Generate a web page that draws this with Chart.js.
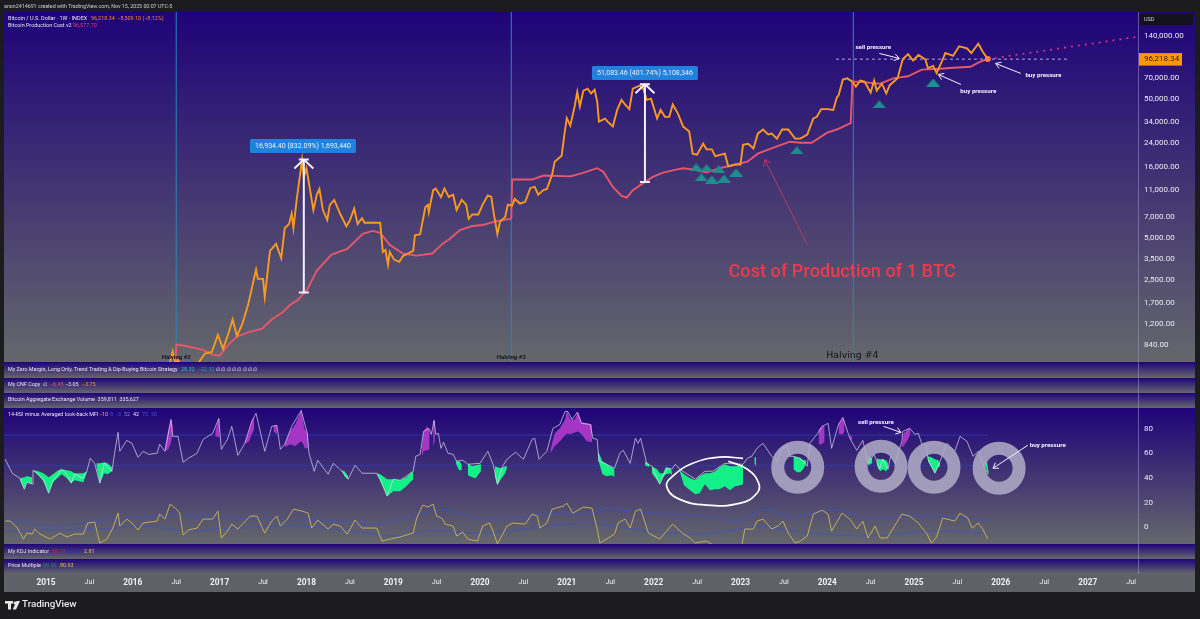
<!DOCTYPE html>
<html><head><meta charset="utf-8">
<style>html,body{margin:0;padding:0;background:#1c1c1e;overflow:hidden}canvas{display:block}</style>
<script src="https://cdn.jsdelivr.net/npm/chart.js@4"></script>
</head><body><canvas id="c" width="1200" height="619"></canvas>
<script>
const priceDates=[2014.55,2015.0,2015.5,2016.0,2016.33,2016.40,2016.44,2016.46,2016.49,2016.52,2016.56,2016.65,2016.75,
2016.83,2016.91,2016.98,2017.04,2017.10,2017.15,2017.20,2017.26,2017.33,2017.42,
2017.44,2017.50,2017.52,2017.55,2017.58,2017.65,2017.71,2017.75,2017.80,2017.83,
2017.85,2017.89,2017.95,2017.97,2018.00,2018.04,2018.08,2018.12,2018.15,2018.19,
2018.24,2018.27,2018.32,2018.39,2018.46,2018.50,2018.55,2018.59,2018.64,2018.67,
2018.77,2018.85,2018.88,2018.91,2018.94,2018.96,2019.01,2019.07,2019.11,2019.23,
2019.25,2019.31,2019.37,2019.40,2019.41,2019.46,2019.49,2019.55,2019.59,2019.64,
2019.69,2019.73,2019.79,2019.84,2019.87,2019.91,2019.98,2020.03,2020.09,2020.13,
2020.16,2020.20,2020.23,2020.29,2020.32,2020.37,2020.40,2020.46,2020.52,2020.58,
2020.63,2020.67,2020.73,2020.77,2020.83,2020.86,2020.94,2020.98,2021.00,2021.04,
2021.09,2021.12,2021.15,2021.19,2021.24,2021.28,2021.32,2021.35,2021.37,2021.44,
2021.47,2021.53,2021.58,2021.63,2021.67,2021.72,2021.76,2021.84,2021.88,2021.92,
2021.97,2022.04,2022.08,2022.13,2022.18,2022.22,2022.28,2022.34,2022.41,2022.45,
2022.50,2022.57,2022.61,2022.67,2022.71,2022.82,2022.86,2022.94,2023.00,2023.03,
2023.09,2023.15,2023.20,2023.26,2023.32,2023.36,2023.42,2023.48,2023.55,2023.63,
2023.69,2023.77,2023.84,2023.88,2023.93,2024.00,2024.07,2024.11,2024.13,2024.18,
2024.23,2024.29,2024.33,2024.38,2024.43,2024.50,2024.54,2024.57,2024.63,2024.68,
2024.72,2024.81,2024.87,2024.93,2024.99,2025.05,2025.13,2025.16,2025.22,2025.26,
2025.32,2025.36,2025.45,2025.52,2025.61,2025.66,2025.74,2025.79,2025.85];
const priceValues=[390,290,260,430,430,530,680,760,620,660,600,580,620,
735,753,1000,795,1020,1290,985,1190,1670,2950,
2530,2530,1880,2730,4020,4520,3560,5850,6280,7450,
5850,9600,18200,13700,15800,11200,7900,10200,11200,7900,
6700,8600,9350,7400,6050,6650,8100,6280,6900,6400,
6400,6400,3950,4080,3200,3950,3480,3350,3680,4020,
5200,5300,8300,8600,7650,11000,11300,9800,11300,9830,
10200,7920,9350,8650,6830,7350,7350,8650,10050,9830,
7350,5320,6500,7050,8650,8500,9500,8800,9060,11400,
11600,10200,11000,11200,14200,17600,19400,30000,36200,32000,
44000,56000,44000,57000,59000,54500,58000,47600,34200,35900,
34200,31500,41500,49000,45400,42000,59000,62000,59000,49000,
50000,36000,41500,37000,37000,45400,39000,31500,29000,20100,
19800,23700,21600,21600,19300,20100,16300,16800,16800,23300,
23700,21900,28000,30000,27600,28000,25800,30000,30000,25800,
25800,27600,36000,37000,42000,42000,41500,51000,52700,68500,
70000,66300,61000,67500,66300,55300,67500,57200,64000,54500,
62500,70000,96000,104500,94000,103000,96000,83000,86000,76500,
92400,106500,101500,119000,115000,106500,124000,109100,96218];

const costDates=[2016.49,2016.50,2016.60,2016.81,2016.91,2017.00,2017.10,2017.20,2017.32,2017.49,
2017.60,2017.73,2017.81,2017.90,2018.01,2018.12,2018.29,2018.47,2018.65,2018.76,
2018.85,2018.96,2019.11,2019.27,2019.45,2019.57,2019.65,2019.77,2019.91,2020.03,
2020.20,2020.35,2020.36,2020.37,2020.50,2020.60,2020.73,2021.04,2021.17,2021.35,
2021.42,2021.53,2021.63,2021.69,2021.76,2021.88,2021.99,2022.11,2022.27,2022.34,
2022.45,2022.61,2022.76,2022.96,2023.08,2023.20,2023.42,2023.57,2023.69,2023.82,
2024.00,2024.11,2024.27,2024.29,2024.35,2024.61,2024.76,2024.93,2025.09,2025.30,
2025.45,2025.65,2025.74,2025.85];
const costValues=[500,851,835,780,725,710,851,973,1040,1110,
1290,1460,1640,1780,2120,2900,3780,4160,5330,5600,
5420,4450,3850,3720,3850,4530,4900,5680,6070,6170,
6600,6830,6900,13100,13100,13100,14000,13800,14500,15800,
14900,11600,10000,9700,11000,12350,13700,14700,15500,15800,
15500,14700,15800,16900,17600,20100,22700,24500,24100,24100,
28500,30000,33300,66300,66300,64000,70000,72400,80800,82000,
83400,84800,90800,96577];

const rsiDates=[2014.53,2014.61,2014.70,2014.75,2014.78,2014.84,2014.85,2014.91,2014.97,2015.03,
2015.08,2015.18,2015.24,2015.29,2015.33,2015.43,2015.47,2015.51,2015.56,2015.62,
2015.67,2015.76,2015.79,2015.83,2015.85,2015.93,2015.99,2016.06,2016.12,2016.18,
2016.28,2016.31,2016.37,2016.44,2016.46,2016.52,2016.58,2016.64,2016.74,2016.81,
2016.92,2016.99,2017.02,2017.09,2017.14,2017.21,2017.29,2017.37,2017.42,2017.52,
2017.60,2017.66,2017.70,2017.75,2017.83,2017.94,2018.01,2018.03,2018.09,2018.13,
2018.25,2018.31,2018.41,2018.48,2018.56,2018.64,2018.81,2018.85,2018.93,2019.00,
2019.08,2019.23,2019.26,2019.31,2019.35,2019.41,2019.44,2019.47,2019.49,2019.52,
2019.55,2019.58,2019.63,2019.69,2019.73,2019.80,2019.86,2020.00,2020.09,2020.15,
2020.20,2020.26,2020.31,2020.41,2020.50,2020.60,2020.63,2020.68,2020.77,2020.84,
2020.92,2020.98,2021.01,2021.06,2021.12,2021.17,2021.27,2021.30,2021.35,2021.37,
2021.46,2021.55,2021.61,2021.65,2021.73,2021.79,2021.82,2021.85,2021.92,2021.98,
2022.07,2022.15,2022.21,2022.25,2022.30,2022.48,2022.59,2022.68,2022.82,2023.03,
2023.08,2023.13,2023.19,2023.26,2023.36,2023.42,2023.48,2023.54,2023.57,2023.61,
2023.69,2023.77,2023.80,2023.89,2023.94,2024.01,2024.05,2024.13,2024.18,2024.26,
2024.34,2024.41,2024.47,2024.54,2024.60,2024.64,2024.70,2024.73,2024.78,2024.86,
2024.87,2024.95,2025.01,2025.05,2025.09,2025.14,2025.16,2025.24,2025.30,2025.38,
2025.47,2025.53,2025.61,2025.68,2025.74,2025.79,2025.85];
const rsiValues=[55.3,43.9,39.8,30.9,36.6,35,46.3,43.1,39,27.6,
37.4,47.2,43.1,35.8,43.1,39.8,45.5,56.1,52,35.8,
52,45.5,60.2,77.2,61.8,70.7,68.3,56.9,61.8,59.3,
60.2,67.5,61.8,87.8,74,74,52.8,56.1,60.2,71.5,
76.4,88.6,63.4,71.5,82.1,58.5,68.3,86.2,92.7,61.8,
82.1,82.9,63.4,67.5,82.1,95.1,76.4,60.2,45.5,54.5,
43.1,52,45.5,39,50.4,43.9,43.9,39,25.2,39,
38.2,45.5,57.7,59.3,78,80.5,75.6,87,75.6,76.4,
64.2,69.1,60.2,59.3,53.7,54.5,51.2,52,61.8,51.2,
35,49.6,55.3,61,55.3,71.5,72.4,55.3,61.8,80.5,
83.7,94.3,94.3,87.8,93.5,84.6,83.7,72.4,71.5,53.7,
51.2,48,60.2,62.6,52,72.4,68.3,72.4,52,49.6,
35,48,47.2,51.2,47.2,39,45.5,45.5,52,51.2,
56.1,57.7,64.2,68.3,57.7,53.7,64.2,65.9,57.7,57.7,
56.1,49.6,68.3,76.4,82.1,84.6,64.2,83.7,89.4,72.4,
62.6,70.7,52,59.3,47.2,55.3,47.2,57.7,52,69.9,
78,80.5,75.6,76.4,67.5,67.5,55.3,43.9,53.7,68.3,
61.8,74,69.9,57.7,61.8,52,43.1];

const greenDates=[2014.70,2014.75,2014.78,2014.84,null,2014.86,2014.91,2014.97,2015.03,2015.08,2015.14,2015.18,2015.24,2015.29,2015.33,2015.43,2015.47,null,
2015.58,2015.62,2015.67,2015.71,2015.76,null,2018.41,2018.44,2018.48,null,
2018.81,2018.85,2018.93,2019.00,2019.08,2019.15,2019.23,null,2019.72,2019.76,2019.79,null,
2019.86,2019.91,2019.95,2020.01,null,2020.17,2020.20,2020.24,2020.29,2020.31,null,
2021.36,2021.41,2021.46,2021.52,2021.55,null,2021.90,2021.95,null,
2021.98,2022.04,2022.07,2022.11,2022.14,2022.19,2022.21,null,
2022.30,2022.35,2022.42,2022.48,2022.53,2022.59,2022.65,2022.71,2022.76,2022.82,2022.88,2022.94,2023.00,2023.03,null,
2023.16,2023.18,null,2023.61,2023.65,2023.69,2023.73,2023.76,null,
2024.47,2024.52,null,2024.57,2024.61,2024.64,2024.68,2024.70,null,
2025.16,2025.20,2025.24,2025.28,2025.30,null,2025.82,2025.84,2025.86];
const greenTop=[39.8,40.7,41.5,40.7,null,46.3,45.5,43.9,40.7,43.1,46.3,47.2,46.3,45.5,43.9,43.9,45.5,null,
52,52,52.8,52,48.8,null,46.3,45.5,41.5,null,
43.9,43.1,39,39,38.2,40.7,45.5,null,53.7,53.7,51.2,null,
52,49.6,50.4,51.2,null,49.6,48.8,48,49.6,49.6,null,
61.8,53.7,51.2,48.8,47.2,null,53.7,51.2,null,
49.6,47.2,43.9,43.9,48.8,48,45.5,null,
46.3,43.1,39.8,38.2,41.5,43.9,43.9,45.5,48.8,51.2,49.6,49.6,50.4,51.2,null,
56.9,56.9,null,57.7,56.9,56.1,54.5,54.5,null,
57.7,56.1,null,56.1,55.3,55.3,54.5,52,null,
57.7,56.9,55.3,54.5,52,null,53.7,52.8,45.5];
const greenBottom=[38.2,30.9,36.6,35,null,45.5,42.3,37.4,27.6,36.6,40.7,43.1,39.8,35.8,38.2,36.6,44.7,null,
49.6,35.8,43.9,43.1,45.5,null,45.5,41.5,39,null,
43.5,37.4,25.2,29.3,29.3,33.3,39,null,52,46.3,46.3,null,
42.3,40.7,39.8,45.5,null,41.5,34.1,39,43.9,48,null,
55.3,43.1,41.5,42.3,40.7,null,50.4,48.8,null,
43.9,38.2,35,40.7,43.1,43.9,42.3,null,
45.5,34.1,30.1,26.8,27.6,35,30.1,30.9,30.9,33.3,30.1,33.3,34.1,35,null,
52,49.6,null,47.2,44.7,44.7,48,52,null,
50.4,52,null,50.4,45.5,47.2,45.5,48.8,null,
53.7,48.8,43.9,48.8,49.6,null,52.8,45.5,42.3];

const purpleDates=[2016.37,2016.41,2016.44,2016.46,null,2016.95,2016.99,2017.00,null,2017.29,2017.34,2017.37,2017.40,null,
2017.62,2017.66,null,2017.75,2017.81,2017.87,2017.94,2017.96,2017.98,2018.02,null,
2019.33,2019.35,2019.39,2019.42,null,2019.46,2019.48,null,
2020.81,2020.86,2020.92,2020.98,2021.00,2021.04,2021.09,2021.13,2021.17,2021.23,2021.29,null,
2023.90,2023.94,2023.97,null,2024.13,2024.18,2024.20,null,2024.26,2024.29,null,2024.86,2024.88,2024.93,2024.96];
const purpleTop=[64.2,79.7,87.8,82.9,null,78,88.6,87.8,null,68.3,78.9,86.2,90.2,null,
82.9,82.9,null,67.5,78,83.7,95.1,87.8,79.7,75.6,null,
63.4,78,82.1,78.9,null,86.2,87,null,
62.6,76.4,80.5,87.8,95.1,87.8,87.8,94.3,85.4,84.6,83.7,null,
79.7,82.1,82.9,null,83.7,89.4,86.2,null,75.6,73.2,null,65.9,76.4,79.7,80.5];
const purpleBottom=[61.8,63.4,69.1,75.6,null,74,73.2,72.4,null,67.5,69.9,75.6,79.7,null,
78,75.6,null,65,67.5,65.9,69.9,68.3,64.2,64.2,null,
57.7,61.8,62.6,63.4,null,65.9,69.9,null,
60.2,65.9,69.9,74.8,76.4,75.6,77.2,78,75.6,69.9,69.1,null,
67.5,67.5,69.9,null,75.6,75.6,78,null,73.2,69.9,null,65,65.9,71.5,76.4];

const pmDates=[2014.53,2014.59,2014.67,2014.74,2014.78,2014.84,2014.87,2014.93,2015.05,2015.16,2015.24,2015.33,2015.43,2015.48,2015.56,2015.62,2015.70,2015.77,2015.83,2015.85,
2015.93,2015.99,2016.06,2016.12,2016.28,2016.31,2016.37,2016.43,2016.49,2016.54,2016.58,2016.64,2016.74,2016.81,2016.92,2016.98,2017.02,2017.09,2017.14,2017.21,
2017.35,2017.43,2017.52,2017.60,2017.66,2017.70,2017.78,2017.85,2017.95,2018.02,2018.06,2018.13,2018.25,2018.31,2018.39,2018.47,2018.56,2018.64,2018.81,2018.87,
2018.96,2019.08,2019.23,2019.27,2019.34,2019.40,2019.46,2019.50,2019.56,2019.60,2019.69,2019.73,2019.80,2019.86,2019.97,2020.03,2020.11,2020.15,2020.20,2020.31,
2020.38,2020.52,2020.60,2020.66,2020.69,2020.77,2020.83,2020.96,2021.00,2021.07,2021.19,2021.29,2021.35,2021.38,2021.55,2021.59,2021.67,2021.73,2021.79,2021.85,
2021.94,2022.07,2022.15,2022.22,2022.33,2022.42,2022.48,2022.61,2022.67,2022.82,2023.02,2023.05,2023.15,2023.19,2023.26,2023.36,2023.43,2023.49,2023.55,2023.63,
2023.69,2023.77,2023.84,2023.94,2024.01,2024.05,2024.17,2024.26,2024.34,2024.41,2024.47,2024.55,2024.61,2024.69,2024.86,2024.95,2025.05,2025.15,2025.20,2025.26,
2025.33,2025.47,2025.53,2025.62,2025.67,2025.74,2025.79,2025.85];
const pmValues=[4.9,4.9,-0.8,-9.8,-4.9,-5.7,-1.6,-5.7,-9.8,-4.9,-8.1,-5.7,-5.7,3.3,4.1,-13,-9.8,-0.8,11.4,0.8,
6.5,3.3,-2.4,3.3,4.9,10.6,6.5,18.7,15.4,11.4,-6.5,-2.4,-0.8,6.5,6.5,13,-8.9,-3.3,2.4,-1.6,
8.9,8.9,-4.9,4.9,8.9,0.8,6.5,14.6,13,11.4,-0.8,5.7,-1.6,2.4,0.8,-5.7,5.7,-0.8,-0.8,-11.4,
-9.8,-8.1,-4.9,7.3,17.9,16.3,18.7,8.9,7.3,2.4,0.8,-7.3,-4.1,-9.8,-11.4,0.8,3.3,-3.3,-13.8,0.8,
3.3,2.4,10.6,8.9,-0.8,3.3,14.6,17.1,19.5,11.4,16.3,15.4,-1.6,-13,-5.7,3.3,6.5,-0.8,13,14.6,
-4.9,-9.8,-3.3,2.4,-4.9,-8.9,-13,-11.4,-13.8,-31.7,-13.8,-1.6,-1.6,4.9,6.5,-1.6,0.8,4.9,-4.9,-13,
-11.4,-7.3,10.6,13.8,10.6,-3.3,11.4,6.5,-1.6,4.9,-8.9,0.8,-8.9,-8.9,10.6,8.9,3.3,-5.7,-13,-8.1,
7.3,4.9,11.4,7.3,-0.8,3.3,-1.6,-9.8];

const upperBandDates=[2014.53,2015.05,2015.43,2015.77,2016.39,2016.97,2017.55,2018.31,2018.81,2019.08,2019.54,2019.80,2020.00,2020.23,2020.55,2020.81,2021.27,2021.46,2021.76,2022.07,2022.61,2023.00,2023.26,2023.61,2024.07,2024.46,2024.95,2025.41,2025.84];
const upperBandValues=[6.5,0.8,3.3,6.5,8.9,8.1,6.5,4.9,2.4,6.5,14.6,10.6,7.3,7.3,8.9,11.4,10.6,15.4,13,10.6,8.9,4.9,14.6,8.9,14.6,7.3,8.9,8.9,4.9];
const lowerBandDates=[2014.53,2015.62,2016.20,2016.58,2017.15,2017.93,2018.70,2019.08,2019.46,2020.03,2020.81,2021.27,2021.76,2022.53,2023.22,2023.69,2024.46,2025.22,2025.84];
const lowerBandValues=[-3.3,-1.6,0.8,-3.3,-0.8,0.8,-4.9,-7.3,-3.3,-4.9,0.8,3.3,-1.6,-5.7,0,-4.1,-7.3,-3.3,-4.9];

const triangleDates=[2022.49,2022.61,2022.75,2022.55,2022.67,2022.81,2022.95,2023.65,2024.60,2025.22];
const triangleValues=[16000,15800,15500,13550,13100,13300,14700,21200,45400,65300];
const halvingDates=[2016.50,2020.36,2024.30];
const ringDates=[2023.66,2024.62,2025.23,2025.98];
const ringValues=[48.8,49.5,48.8,48];
const ellipseDates=[2023.03,2022.76,2022.45,2022.22,2022.15,2022.27,2022.61,2023.00,2023.19,2023.21,2023.08,2022.86];
const ellipseValues=[56,57,52,41.5,33.3,23.6,17.9,19.5,27.6,35.8,47.2,53.7];
const projDates=[2025.85,2027.60];
const projValues=[96218,140000];
const priceTicks=[140000,70000,50000,34000,24000,16000,11000,7000,5000,3500,2500,1700,1200,840];
const timeTicks=[2015,2015.5,2016,2016.5,2017,2017.5,2018,2018.5,2019,2019.5,2020,2020.5,2021,2021.5,2022,2022.5,2023,2023.5,2024,2024.5,2025,2025.5,2026,2026.5,2027,2027.5];

const flatTriangle=(()=>{const k=document.createElement('canvas');k.width=14;k.height=8;const q=k.getContext('2d');
 q.fillStyle='#1d8f8c';q.beginPath();q.moveTo(7,0);q.lineTo(14,8);q.lineTo(0,8);q.closePath();q.fill();return k;})();

const zip=(xs,ys)=>xs.map((x,i)=>({x:x===null?NaN:x,y:ys[i]}));
const line=(label,xs,ys,yAxisID,color,width,extra)=>Object.assign({type:'line',label,data:zip(xs,ys),yAxisID,xAxisID:'x',borderColor:color,borderWidth:width,pointRadius:0,tension:0,fill:false,spanGaps:false},extra||{});
const hLast=priceDates[priceDates.length-1];

const datasets=[
 line('Halvings',halvingDates.flatMap(t=>[t,t,t]),halvingDates.flatMap(()=>[624,215000,null]),'yPrice','#2b86bd',1,{order:50}),
 line('Projection',projDates,projValues,'yPrice','#cf3480',1.8,{borderDash:[2,5],order:45}),
 line('Level',[2024.10,2026.77],[96218,96218],'yPrice','#d8d0f8',0.8,{borderDash:[3,3],order:44}),
 line('Bitcoin Production Cost v2',costDates,costValues,'yPrice','#e8566c',1.9,{order:30}),
 line('Bitcoin / U.S. Dollar',priceDates,priceValues,'yPrice','#fb9a20',1.9,{order:20}),
 line('Last',[hLast],[96218],'yPrice','#f9a03c',0,{pointRadius:3,pointBackgroundColor:'#f57e54',pointBorderWidth:0,order:10}),
 line('Signals',triangleDates,triangleValues,'yPrice','#1d8f8c',0,{showLine:false,pointStyle:flatTriangle,pointRadius:6,order:15}),
 line('RSI 75',[2014.5,hLast],[75,75],'yOsc','#2b2fa6',1.2,{order:60}),
 line('RSI 50',[2014.5,hLast],[50,50],'yOsc','#2f3ab0',1.2,{order:60}),
 line('Green top',greenDates,greenTop,'yOsc','transparent',0,{fill:'+1',backgroundColor:'#14ef87',order:40}),
 line('Green bottom',greenDates,greenBottom,'yOsc','transparent',0,{order:41}),
 line('Purple top',purpleDates,purpleTop,'yOsc','transparent',0,{fill:'+1',backgroundColor:'#a535c4',order:40}),
 line('Purple bottom',purpleDates,purpleBottom,'yOsc','transparent',0,{order:41}),
 line('RSI',rsiDates,rsiValues,'yOsc','rgba(225,220,245,0.85)',0.8,{order:12}),
 line('Upper band',upperBandDates,upperBandValues,'yOsc','rgba(62,84,190,0.55)',1.5,{order:35,tension:0.3}),
 line('Lower band',lowerBandDates,lowerBandValues,'yOsc','rgba(62,84,190,0.55)',1.5,{order:35,tension:0.3}),
 line('MFI',pmDates,pmValues,'yOsc','#cdb859',0.9,{order:13}),
 line('Ellipse',ellipseDates,ellipseValues,'yOsc','#ffffff',1.7,{tension:0.45,order:9}),
 line('Rings',ringDates,ringValues,'yOsc','transparent',0,{showLine:false,pointStyle:'circle',pointRadius:20,pointBorderWidth:13,pointBackgroundColor:'transparent',pointBorderColor:'rgba(176,172,198,0.86)',order:11})
];

const noPad=s=>{s.paddingLeft=0;s.paddingRight=0;s.paddingTop=0;s.paddingBottom=0;};
const yFit=s=>{s.width=57;noPad(s);};
const noGrid={display:false,drawTicks:false};
const hiddenAxis=(weight,stackWeight)=>({type:'linear',position:'right',stack:'panes',stackWeight,weight,grid:noGrid,border:{display:false},ticks:{display:false},afterFit:yFit});
const paneIds=['yPrice','s1','s2','s3','yOsc','s4','s5'];

const bg={id:'bg',beforeDraw(c){
 const g=c.ctx,L=4,R=1195;
 g.save();g.fillStyle='#1c1c1e';g.fillRect(0,0,1200,619);
 for(const id of paneIds){const s=c.scales[id];
  const gr=g.createLinearGradient(0,s.top,0,s.bottom);
  gr.addColorStop(0,'#1f0379');gr.addColorStop(1,'#65676c');
  g.fillStyle=gr;g.fillRect(L,s.top,R-L,s.bottom-s.top);}
 const xs=c.scales.x;
 g.fillStyle='#5f6169';g.fillRect(L,xs.top,R-L,xs.bottom-xs.top);
 g.strokeStyle='rgba(150,145,200,0.55)';g.lineWidth=1;
 g.beginPath();g.moveTo(1138.5,c.scales.yPrice.top);g.lineTo(1138.5,c.scales.s5.bottom);g.stroke();
 g.restore();
}};

function text(g,s,x,y,font,color,align){g.font=font;g.fillStyle=color;g.textAlign=align||'left';g.textBaseline='middle';g.fillText(s,x,y);}
function arrow(g,x1,y1,x2,y2,color,w,h){g.strokeStyle=color;g.lineWidth=w;g.beginPath();g.moveTo(x1,y1);g.lineTo(x2,y2);
 const a=Math.atan2(y2-y1,x2-x1);
 for(const d of [2.55,-2.55]){g.moveTo(x2,y2);g.lineTo(x2+h*Math.cos(a+d),y2+h*Math.sin(a+d));}
 g.stroke();}

const priceArrows=[[2024.60,105700,2024.83,97300],[2025.54,63200,2025.28,74600],[2026.23,75900,2025.94,89500]];
const oscArrows=[[2024.65,82.1,2024.85,77.2],[2026.31,66.7,2025.91,48]];
const costArrow=[2023.77,4470,2023.28,18200];
const measures=[[2017.97,2015,18240,2017.96,22800,'16,934.40 (832.09%) 1,693,440'],[2021.90,12600,63500,2021.90,76400,'51,083.46 (401.74%) 5,108,346']];
const priceLabels=[['sell pressure',2024.53,116800],['buy pressure',2025.74,56200],['buy pressure',2026.49,73300]];
const oscLabels=[['sell pressure',2024.56,85.4],['buy pressure',2026.54,66.7]];
const halvingLabels=[['Halving #2',2016.50,687,'bold 6px Roboto'],['Halving #3',2020.36,687,'bold 6px Roboto'],['Halving #4',2024.29,710,'500 9.4px "DejaVu Sans"']];

const notes={id:'notes',afterDatasetsDraw(c){
 const g=c.ctx,X=c.scales.x,P=c.scales.yPrice,O=c.scales.yOsc;
 const px=t=>X.getPixelForValue(t),pp=v=>P.getPixelForValue(v),po=v=>O.getPixelForValue(v);
 g.save();g.lineCap='butt';
 const pr='"Roboto"';
 for(const [t,lo,hi,bt,bv,label] of measures){
  const x=px(t),y1=pp(lo),y2=pp(hi);
  g.strokeStyle='#f2f0ff';g.lineWidth=2;g.beginPath();
  g.moveTo(x,y1);g.lineTo(x,y2);
  g.moveTo(x-5,y1);g.lineTo(x+5,y1);g.moveTo(x-5,y2);g.lineTo(x+5,y2);
  g.moveTo(x-9.5,y2+9);g.lineTo(x,y2);g.lineTo(x+9.5,y2+9);g.stroke();
  const bx=px(bt),by=pp(bv);
  g.fillStyle='#1f82dc';g.beginPath();g.roundRect(bx-53,by-7,106,14,1.5);g.fill();
  text(g,label,bx,by+0.3,'7px '+pr,'#eaf3ff','center');
 }
 for(const a of priceArrows)arrow(g,px(a[0]),pp(a[1]),px(a[2]),pp(a[3]),'#f4f2ff',1,6);
 for(const a of oscArrows)arrow(g,px(a[0]),po(a[1]),px(a[2]),po(a[3]),'#f4f2ff',1,6);
 arrow(g,px(costArrow[0]),pp(costArrow[1]),px(costArrow[2]),pp(costArrow[3]),'#b33d5c',1,7);
 for(const [s,t,v] of priceLabels)text(g,s,px(t),pp(v),'bold 6.2px '+pr,'#f4f2ff','center');
 for(const [s,t,v] of oscLabels)text(g,s,px(t),po(v),'bold 6.2px '+pr,'#f4f2ff','center');
 text(g,'Cost of Production of 1 BTC',px(2024.17),pp(2806),'500 18.2px '+pr,'#ee3a4c','center');
 for(const [s,t,v,f] of halvingLabels)text(g,s,px(t),pp(v),f,'#14121c','center');
 const ty=pp(96218);
 g.fillStyle='#ff9800';g.fillRect(1139,ty-6,43,12.5);
 text(g,'96,218.34',1144,ty+0.3,'8px '+pr,'#2a2008');
 g.fillStyle='#14131d';g.fillRect(1140,14,53,11);
 text(g,'USD',1144,19.5,'5.5px '+pr,'#d0d0d8');
 const f='5.4px '+pr,w='#e6e4f2';
 text(g,'anon2414691 created with TradingView.com, Nov 15, 2025 00:07 UTC-5',4,6.5,'5.3px '+pr,'#cfcfd2');
 text(g,'Bitcoin / U.S. Dollar · 1W · INDEX',8,18.5,'5.5px '+pr,w);
 text(g,'96,218.34  −8,509.10 (−8.12%)',91,18.5,f,'#f08a2a');
 text(g,'Bitcoin Production Cost v2',8,26,f,w);
 text(g,'96,577.70',73,26,f,'#e0407a');
 text(g,'My Zero Margin, Long Only, Trend Trading & Dip-Buying Bitcoin Strategy',8,370,f,w);
 text(g,'28.32',181,370,f,'#26c6b0');text(g,'−22.32',198,370,f,'#1fa7a0');
 text(g,'∅ ∅ ∅ ∅ ∅ ∅ ∅ ∅',216,370,f,w);
 text(g,'My CNF Copy',8,385,f,w);text(g,'∅',43,385,f,w);
 text(g,'−6.45',50,385,f,'#e8566c');text(g,'−3.05',65,385,f,w);text(g,'−3.75',82,385,f,'#fb9a20');
 text(g,'Bitcoin Aggregate Exchange Volume  359,811  335,627',8,400,f,w);
 text(g,'14-RSI minus Averaged look-back MFI',8,415,f,w);
 text(g,'−10',99,415,f,'#e6c04a');text(g,'8',110,415,f,'#3d55d8');text(g,'−3',115,415,f,'#3d55d8');
 text(g,'52',124,415,f,'#8b7fd8');text(g,'42',133,415,f,w);text(g,'75',142,415,f,'#3d55d8');text(g,'50',151,415,f,'#3d55d8');
 text(g,'My KDJ Indicator',8,552,f,w);text(g,'58.77',52,552,f,'#d81b3c');text(g,'60.12',67,552,f,'#2a2ac0');text(g,'2.81',84,552,f,'#e6c04a');
 text(g,'Price Multiple',8,566,f,w);text(g,'69.90',43,566,f,'#2e8f6a');text(g,'80.93',60,566,f,'#e6c04a');
 g.fillStyle='#e8e8e8';g.fillRect(5,601,8,2.6);g.fillRect(8,601,3,8.5);
 g.beginPath();g.arc(15,603,1.4,0,7);g.fill();
 g.beginPath();g.moveTo(16.5,601);g.lineTo(20,601);g.lineTo(16,609.5);g.lineTo(12.8,609.5);g.closePath();g.fill();
 text(g,'TradingView',22,605,'500 9.8px '+pr,'#e8e8e8');
 g.restore();
}};

new Chart(document.getElementById('c'),{
 data:{datasets},
 plugins:[bg,notes],
 options:{
  responsive:false,animation:false,devicePixelRatio:1,
  layout:{autoPadding:false,padding:{left:4,right:5,top:12,bottom:27}},
  plugins:{legend:{display:false},tooltip:{enabled:false}},
  scales:{
   x:{type:'linear',position:'bottom',min:2014.516,max:2027.58,grid:noGrid,border:{display:false},
      afterBuildTicks:s=>{s.ticks=timeTicks.map(value=>({value}))},
      afterFit:s=>{s.height=18;noPad(s);},
      ticks:{autoSkip:false,maxRotation:0,padding:4,color:'#f0f0f2',callback:v=>Number.isInteger(v)?String(v):'Jul',
       font:ctx=>Number.isInteger(ctx.tick&&ctx.tick.value)?{family:'Roboto',size:8.3,weight:'bold'}:{family:'Roboto',size:7.2}}},
   yPrice:{type:'logarithmic',position:'right',stack:'panes',stackWeight:350,weight:1,min:638.6,max:209900,
      grid:noGrid,border:{display:false},
      afterBuildTicks:s=>{s.ticks=priceTicks.map(value=>({value}))},
      afterFit:yFit,
      ticks:{autoSkip:false,padding:6,color:'#ecebf5',font:{family:'Roboto',size:8},crossAlign:'near',
       callback:v=>Number(v).toLocaleString('en-US',{minimumFractionDigits:2,maximumFractionDigits:2})}},
   s1:hiddenAxis(2,16),s2:hiddenAxis(3,15),s3:hiddenAxis(4,15),
   yOsc:{type:'linear',position:'right',stack:'panes',stackWeight:136,weight:5,min:-13.8,max:97.1,
      grid:noGrid,border:{display:false},
      afterFit:yFit,
      afterBuildTicks:s=>{s.ticks=[80,60,40,20,0].map(value=>({value}))},
      ticks:{autoSkip:false,padding:6,color:'#ecebf5',font:{family:'Roboto',size:8},crossAlign:'near'}},
   s4:hiddenAxis(6,15),s5:hiddenAxis(7,15)
  }
 }
});
</script></body></html>
